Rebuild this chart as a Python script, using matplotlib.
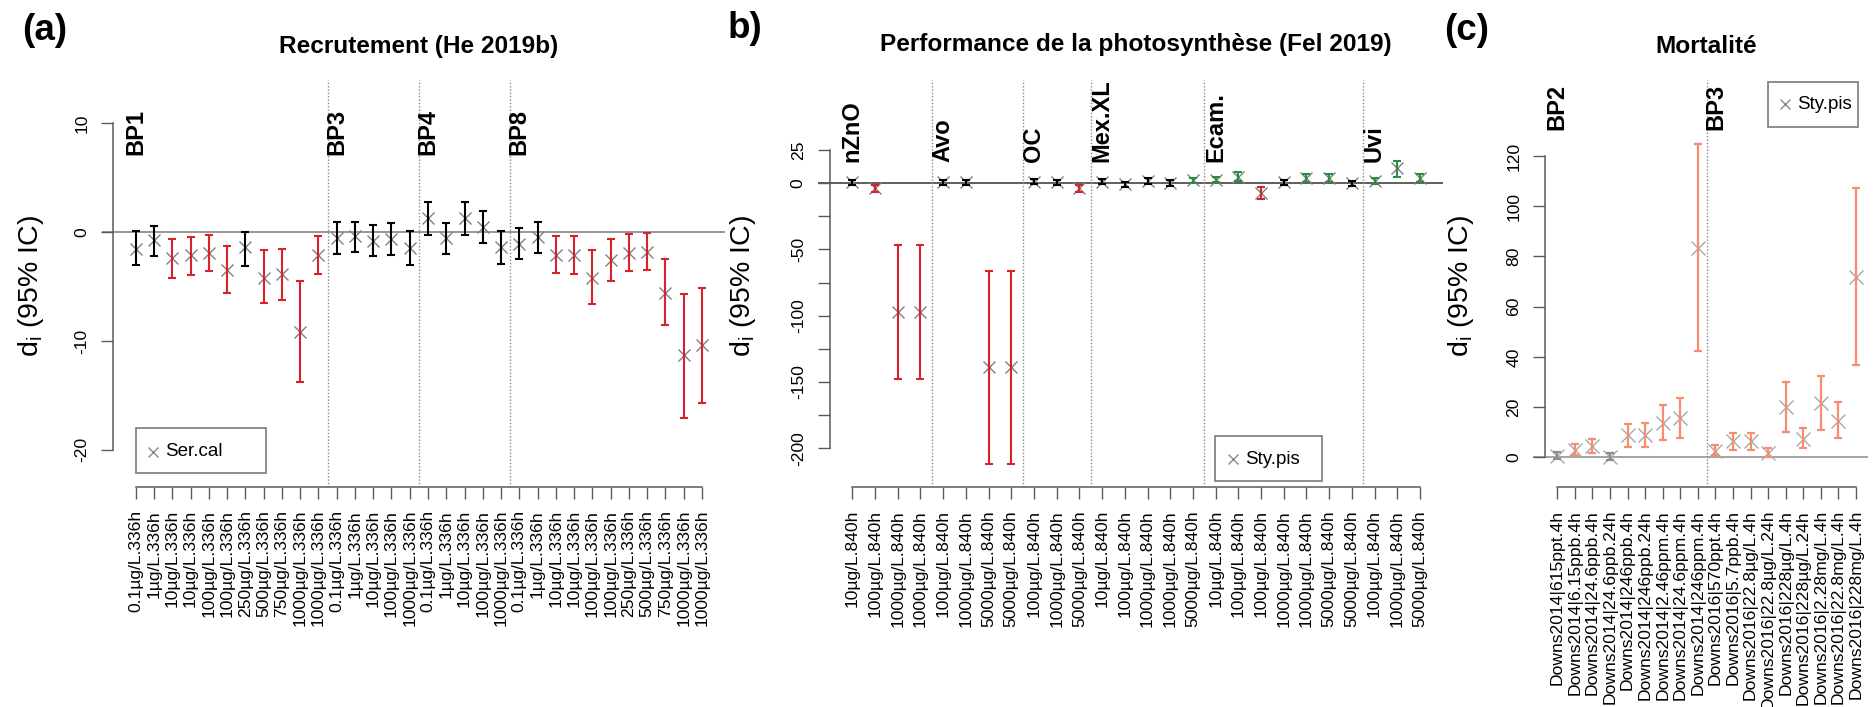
import matplotlib
matplotlib.use("Agg")
import matplotlib.pyplot as plt
from matplotlib.patches import Rectangle
from matplotlib.lines import Line2D
import numpy as np

plt.rcParams['font.family'] = ['Liberation Sans', 'DejaVu Sans']
plt.rcParams['axes.unicode_minus'] = False

# ---------------- DATA ----------------
# Panel (a) Recrutement (He 2019b), species Ser.cal
a_groups = ["BP1", "BP3", "BP4", "BP8"]
a_group_sizes = [11, 5, 5, 11]
a_labels = ["0.1µg/L.336h", "1µg/L.336h", "10µg/L.336h", "10µg/L.336h", "100µg/L.336h",
            "100µg/L.336h", "250µg/L.336h", "500µg/L.336h", "750µg/L.336h", "1000µg/L.336h",
            "1000µg/L.336h",
            "0.1µg/L.336h", "1µg/L.336h", "10µg/L.336h", "100µg/L.336h", "1000µg/L.336h",
            "0.1µg/L.336h", "1µg/L.336h", "10µg/L.336h", "100µg/L.336h", "1000µg/L.336h",
            "0.1µg/L.336h", "1µg/L.336h", "10µg/L.336h", "10µg/L.336h", "100µg/L.336h",
            "100µg/L.336h", "250µg/L.336h", "500µg/L.336h", "750µg/L.336h", "1000µg/L.336h",
            "1000µg/L.336h"]
a_est = [-1.5, -0.75, -2.4, -2.1, -1.9, -3.5, -1.35, -4.2, -3.85, -9.15, -2.1,
         -0.5, -0.37, -0.8, -0.67, -1.45,
         1.26, -0.55, 1.26, 0.52, -1.4,
         -1.1, -0.45, -2.05, -2.1, -4.2, -2.58, -1.95, -1.85, -5.55, -11.3, -10.4]
a_lo = [-3.05, -2.2, -4.2, -3.9, -3.55, -5.6, -3.1, -6.55, -6.2, -13.8, -3.8,
        -1.96, -1.8, -2.18, -2.1, -3.05,
        -0.3, -1.96, -0.3, -0.95, -2.95,
        -2.5, -1.9, -3.72, -3.86, -6.56, -4.48, -3.56, -3.5, -8.56, -17.05, -15.67]
a_hi = [0.08, 0.6, -0.6, -0.43, -0.28, -1.26, 0.03, -1.65, -1.5, -4.5, -0.37,
        0.92, 0.98, 0.7, 0.8, 0.1,
        2.8, 0.86, 2.8, 1.96, 0.12,
        0.4, 0.95, -0.37, -0.37, -1.66, -0.67, -0.2, -0.12, -2.5, -5.64, -5.09]
a_cat = list("nnrrrrnrrrr" + "nnnnn" + "nnnnn" + "nnrrrrrrrrr")

# Panel (b) Performance de la photosynthese (Fel 2019), species Sty.pis
b_groups = ["nZnO", "Avo", "OC", "Mex.XL", "Ecam.", "Uvi"]
b_group_sizes = [4, 4, 3, 5, 7, 3]
b_labels = ["10µg/L.840h", "100µg/L.840h", "1000µg/L.840h", "1000µg/L.840h",
            "100µg/L.840h", "1000µg/L.840h", "5000µg/L.840h", "5000µg/L.840h",
            "100µg/L.840h", "1000µg/L.840h", "5000µg/L.840h",
            "10µg/L.840h", "100µg/L.840h", "1000µg/L.840h", "1000µg/L.840h", "5000µg/L.840h",
            "10µg/L.840h", "100µg/L.840h", "100µg/L.840h", "1000µg/L.840h", "1000µg/L.840h",
            "5000µg/L.840h", "5000µg/L.840h",
            "100µg/L.840h", "1000µg/L.840h", "5000µg/L.840h"]
b_est = [0.5, -4, -97.5, -97.5, 0.5, 0.5, -139, -139, 1, 0.5, -3.8,
         1.2, -0.8, 1.7, 0.2, 2.2, 2.5, 5, -7.5, 0.5, 3.7, 3.7, -0.2, 1.7, 11.3, 3.7]
b_lo = [-1.5, -7, -148, -148, -1.5, -1.5, -212, -212, -1, -1.5, -6.5,
        -0.8, -2.8, -0.3, -1.8, 0.2, 0.5, 1.3, -12, -1.5, 0.5, 0.5, -2.2, -0.3, 5, 0.5]
b_hi = [2, -1.5, -46.5, -46.5, 2, 2, -66.5, -66.5, 3, 2.5, -1.2,
        3.2, 1.2, 3.7, 2.2, 4.2, 4.5, 8.7, -3, 2.5, 7, 7, 1.8, 3.7, 16.8, 7]
b_cat = list("nrrr" + "nnrr" + "nnr" + "nnnng" + "ggrnggn" + "ggg")

# Panel (c) Mortalite, species Sty.pis
c_groups = ["BP2", "BP3"]
c_group_sizes = [9, 9]
c_labels = ["Downs2014|615ppt.4h", "Downs2014|6.15ppb.4h", "Downs2014|24.6ppb.4h",
            "Downs2014|24.6ppb.24h", "Downs2014|246ppb.4h", "Downs2014|246ppb.24h",
            "Downs2014|2.46ppm.4h", "Downs2014|24.6ppm.4h", "Downs2014|246ppm.4h",
            "Downs2016|570ppt.4h", "Downs2016|5.7ppb.4h", "Downs2016|22.8µg/L.4h",
            "Downs2016|22.8µg/L.24h", "Downs2016|228µg/L.4h", "Downs2016|228µg/L.24h",
            "Downs2016|2.28mg/L.4h", "Downs2016|22.8mg/L.4h", "Downs2016|228mg/L.4h"]
c_est = [0.5, 2.9, 4.6, 0.2, 8.9, 8.9, 13.8, 15.5, 83.5,
         2.6, 6.6, 6.6, 1.6, 19.9, 7.2, 21.7, 14.6, 71.9]
c_lo = [-0.8, 0.9, 1.8, -1, 4.2, 4.2, 6.9, 7.8, 42.5,
        0.9, 2.9, 2.9, 0, 10.2, 3.6, 10.9, 7.6, 36.8]
c_hi = [2, 5.3, 7.2, 1.9, 13.3, 13.5, 20.8, 23.5, 124.6,
        4.9, 9.8, 9.8, 3.6, 30.1, 11.8, 32.4, 22.1, 107.1]
c_cat = list("nssnsssss" + "sssssssss")

# ---------------- LAYOUT ----------------
W, H = 1876, 707
fig = plt.figure(figsize=(W / 100, H / 100), dpi=100)
fig.patch.set_facecolor("white")

TOP, BOT = 80, 486.7
RED, GREEN, SALMON = "#D9232A", "#2B8C45", "#F98B70"
AXC = "#5a5a5a"


def fx(px):
    return px / W


def fy(py):
    return 1 - py / H


def panel(left_px, right_px, first_px, last_px, est, lo, hi, cats, colmap, labels,
          groups, sizes, ylim, yticks, yticklabels, ybounds, bp_y, ms, mcol, cap, lw,
          zero_col):
    n = len(est)
    ax = fig.add_axes([fx(left_px), fy(BOT), (right_px - left_px) / W, (BOT - TOP) / H])
    s = (last_px - first_px) / (n - 1)
    ax.set_xlim((left_px - first_px) / s, (right_px - first_px) / s)
    ax.set_ylim(*ylim)
    ax.set_facecolor("none")
    x = np.arange(n)
    est = np.array(est)
    lo = np.array(lo)
    hi = np.array(hi)

    ax.axhline(0, color=zero_col, lw=1.1, zorder=1)
    starts = np.cumsum([0] + sizes[:-1])
    for st in starts[1:]:
        ax.axvline(st - 0.5, color="#8a8a8a", ls=(0, (1, 1.4)), lw=1.0, zorder=1)
    for name, st in zip(groups, starts):
        ax.text(st, bp_y, name, rotation=90, ha="center", va="bottom", fontsize=17,
                fontweight="bold")

    ax.plot(x, est, ls="none", marker="x", ms=ms, mew=1.0, color=mcol, zorder=2)
    for c in sorted(set(cats)):
        idx = np.array([i for i in range(n) if cats[i] == c])
        ax.errorbar(idx, est[idx], yerr=[est[idx] - lo[idx], hi[idx] - est[idx]],
                    fmt="none", ecolor=colmap[c], elinewidth=lw, capsize=cap,
                    capthick=lw, zorder=3)

    for sp in ["top", "right"]:
        ax.spines[sp].set_visible(False)
    ax.spines["left"].set_position(("data", -0.04 * (n - 1)))
    ax.spines["left"].set_bounds(*ybounds)
    ax.spines["bottom"].set_bounds(0, n - 1)
    for sp in ["left", "bottom"]:
        ax.spines[sp].set_color(AXC)
        ax.spines[sp].set_linewidth(1.1)

    ax.set_xticks(x)
    ax.set_xticklabels(labels)
    ax.set_yticks(yticks)
    ax.set_yticklabels(yticklabels)
    ax.tick_params(axis="x", length=8.4, width=1.0, color=AXC, pad=8.3,
                   labelsize=12.6, labelrotation=90)
    ax.tick_params(axis="y", length=8.6, width=1.0, color=AXC, pad=8.5,
                   labelsize=12.6, labelrotation=90)
    for tl in ax.get_yticklabels():
        tl.set_va("center")
    return ax


# Panel (a)
ax_a = panel(102, 725, 135.7, 702, a_est, a_lo, a_hi, a_cat,
             {"n": "black", "r": RED}, a_labels, a_groups, a_group_sizes,
             (-23.38, 13.98), [-20, -10, 0, 10], ["-20", "-10", "0", "10"], (-20, 10),
             7.09, 8.0, "#808080", 2.6, 1.5, "#7a7a7a")

# Panel (b)
b_ticks = [-200, -175, -150, -125, -100, -75, -50, -25, 0, 25]
b_tlabs = ["-200", "", "-150", "", "-100", "", "-50", "", "0", "25"]
ax_b = panel(818.3, 1442.7, 852.3, 1420, b_est, b_lo, b_hi, b_cat,
             {"n": "black", "r": RED, "g": GREEN}, b_labels, b_groups, b_group_sizes,
             (-229.0, 77.8), b_ticks, b_tlabs, (-200, 25),
             16.1, 8.0, "#808080", 2.9, 1.5, "#333333")

# Panel (c)
ax_c = panel(1533, 1868, 1557.3, 1856, c_est, c_lo, c_hi, c_cat,
             {"n": "#8c8c8c", "s": SALMON}, c_labels, c_groups, c_group_sizes,
             (-11.71, 150.26), [0, 20, 40, 60, 80, 100, 120],
             ["0", "20", "40", "60", "80", "100", "120"], (0, 120),
             130.3, 9.4, "#a8a8a8", 3.0, 1.6, "#8a8a8a")

# Titles
fig.text(fx(419), fy(47), "Recrutement (He 2019b)", ha="center", va="center",
         fontsize=17.6, fontweight="bold")
fig.text(fx(1136), fy(45), "Performance de la photosynthèse (Fel 2019)", ha="center",
         va="center", fontsize=17.6, fontweight="bold")
fig.text(fx(1706.5), fy(46.7), "Mortalité", ha="center", va="center",
         fontsize=17.6, fontweight="bold")

# Panel letters
fig.text(fx(21.7), fy(31), "(a)", ha="left", va="center", fontsize=26.5, fontweight="bold")
fig.text(fx(728), fy(29), "b)", ha="left", va="center", fontsize=26.5, fontweight="bold")
fig.text(fx(1444.5), fy(31), "(c)", ha="left", va="center", fontsize=26.5,
         fontweight="bold")

# Y labels
ylab = r"d$_\mathregular{i}$ (95% IC)"
for xc in (30.7, 743.3, 1461):
    fig.text(fx(xc), fy(286), ylab, rotation=90, ha="center", va="center",
             fontsize=20.5)


# Legends
def legend_box(x0, x1, y0, y1, mx, my, tx, name):
    fig.add_artist(Rectangle((fx(x0), fy(y1)), (x1 - x0) / W, (y1 - y0) / H,
                             transform=fig.transFigure, fill=False,
                             edgecolor="#7a7a7a", lw=1.2))
    fig.add_artist(Line2D([fx(mx)], [fy(my)], transform=fig.transFigure, marker="x",
                          ms=7.2, mew=1.0, color="#8a8a8a", ls="none"))
    fig.text(fx(tx), fy(my), name, ha="left", va="center", fontsize=13.5)


legend_box(135.7, 265.7, 428.3, 473.3, 153, 451.5, 165, "Ser.cal")
legend_box(1215, 1321.7, 435.7, 481, 1232.5, 459, 1245, "Sty.pis")
legend_box(1768.3, 1858.3, 81.7, 126.7, 1785, 104.3, 1796.7, "Sty.pis")

fig.savefig("out.png", dpi=100, facecolor="white")
